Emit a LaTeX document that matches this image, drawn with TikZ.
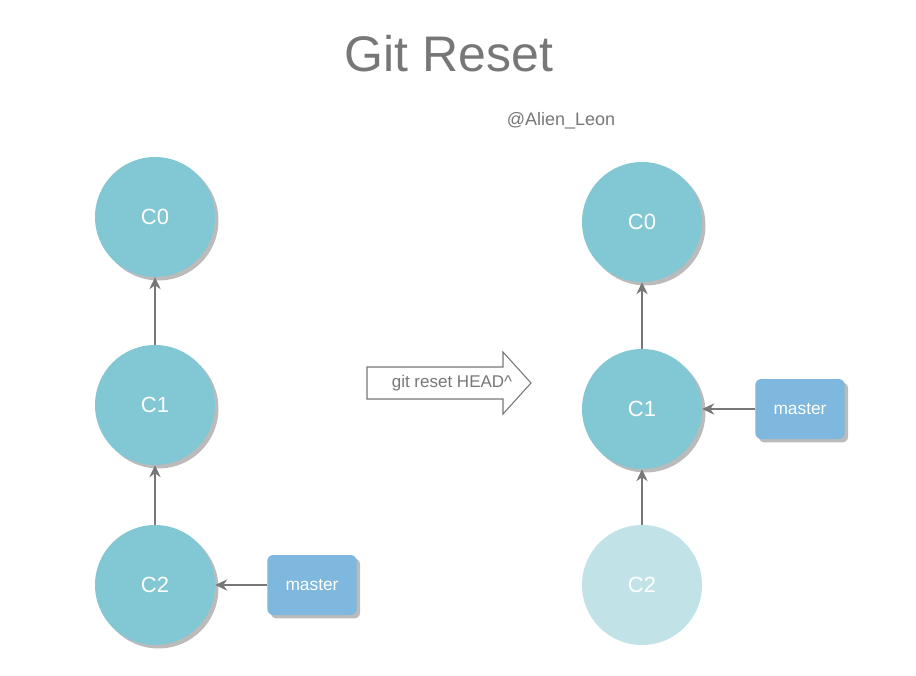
\documentclass[tikz,border=0pt]{standalone}
\usepackage{fontspec}
\setmainfont{Liberation Sans}
\usetikzlibrary{arrows.meta,shadows}
\definecolor{commit}{HTML}{82C8D4}
\definecolor{oldcommit}{HTML}{C1E3E8}
\definecolor{branch}{HTML}{7EB8DE}
\definecolor{shade}{HTML}{BBBBBB}
\definecolor{ink}{HTML}{777777}
\tikzset{
  commitnode/.style={circle, fill=commit, minimum size=90pt, inner sep=0pt, text=white,
    font=\fontsize{16.5}{18}\selectfont,
    drop shadow={shadow xshift=2.6pt, shadow yshift=-2.6pt, fill=shade, opacity=1}},
  oldnode/.style={circle, fill=oldcommit, minimum size=90pt, inner sep=0pt, text=white,
    font=\fontsize{16.5}{18}\selectfont},
  branchnode/.style={rectangle, rounded corners=4.5pt, fill=branch, minimum width=67pt,
    minimum height=45pt, inner sep=0pt, text=white, font=\fontsize{13}{14}\selectfont,
    drop shadow={shadow xshift=2.6pt, shadow yshift=-2.6pt, fill=shade, opacity=1}},
  link/.style={draw=ink, line width=1pt, -{Stealth[length=9pt,width=8.5pt,inset=3pt]}}
}
\begin{document}
\begin{tikzpicture}[x=0.75pt, y=-0.75pt]
    \fill[white] (0,0) rectangle (916,675);
    \useasboundingbox (0,0) rectangle (916,675);
    \node[text=ink, font=\fontsize{37.5}{40}\selectfont] (title) at (449,54) {Git Reset};
    \node[text=ink, font=\fontsize{13.5}{15}\selectfont] (author) at (561,121) {@Alien\_Leon};
    \node[commitnode] (c0l) at (155,217) {C0};
    \node[commitnode] (c1l) at (155,405) {C1};
    \node[commitnode] (c2l) at (155,585) {C2};
    \node[branchnode] (masterl) at (312,585) {master};
    \draw[link] (c1l) -- (c0l);
    \draw[link] (c2l) -- (c1l);
    \draw[link] (masterl) -- (c2l);
    \draw[ink, line width=0.8pt, fill=white] (367,367) -- (503,367) -- (503,352) -- (531,383)
        -- (503,414) -- (503,399) -- (367,399) -- cycle;
    \node[text=ink, font=\fontsize{12.75}{14}\selectfont] (cmd) at (452,383) {git reset HEAD\textasciicircum};
    \node[commitnode] (c0r) at (642,222) {C0};
    \node[commitnode] (c1r) at (642,409) {C1};
    \node[oldnode] (c2r) at (642,585) {C2};
    \node[branchnode] (masterr) at (800,409) {master};
    \draw[link] (c1r) -- (c0r);
    \draw[link] (c2r) -- (c1r);
    \draw[link] (masterr) -- (c1r);
\end{tikzpicture}
\end{document}
